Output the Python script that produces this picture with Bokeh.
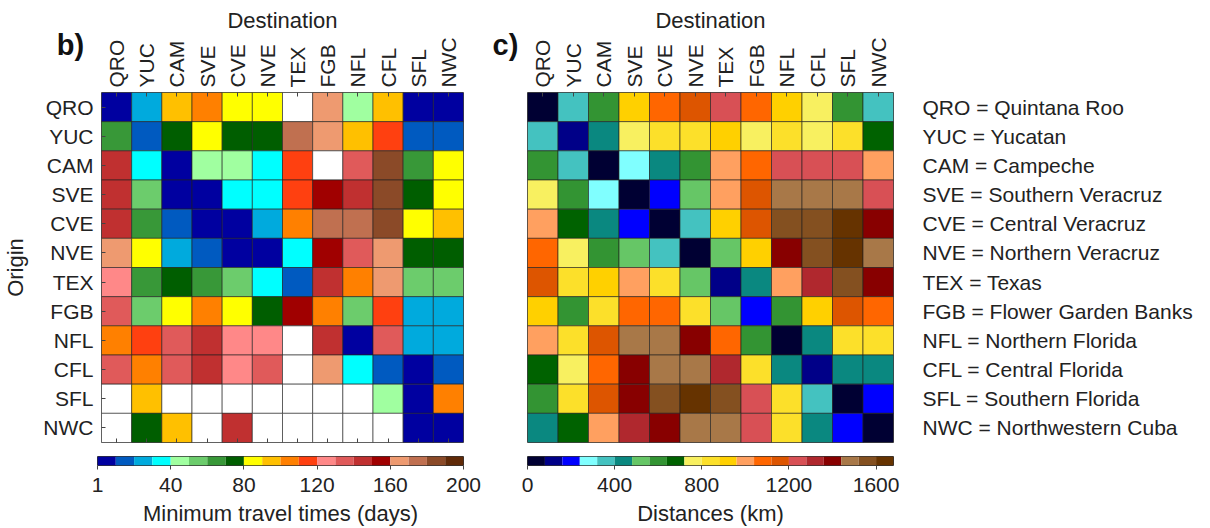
import math
from bokeh.plotting import figure
from bokeh.models import (LinearColorMapper, ColumnDataSource, FactorRange, Range1d,
                          FixedTicker, CategoricalAxis)
from bokeh.layouts import column, row
from bokeh.embed import file_html
from bokeh.resources import INLINE
from bokeh.core.properties import value

# ---------------- data ----------------
codes = ["QRO", "YUC", "CAM", "SVE", "CVE", "NVE", "TEX", "FGB", "NFL", "CFL", "SFL", "NWC"]
region_names = ["Quintana Roo", "Yucatan", "Campeche", "Southern Veracruz", "Central Veracruz",
                "Northern Veracruz", "Texas", "Flower Garden Banks", "Northern Florida",
                "Central Florida", "Southern Florida", "Northwestern Cuba"]

N = None  # no connection (white cell)
# rows = origin, columns = destination (same order as codes)
travel_days = [
    [5, 25, 95, 105, 85, 85, N, 165, 45, 95, 5, 5],              # QRO
    [65, 15, 75, 85, 75, 75, 175, 165, 95, 115, 15, 15],         # YUC
    [145, 35, 5, 45, 45, 35, 115, N, 135, 185, 65, 85],          # CAM
    [145, 55, 5, 5, 35, 35, 115, 155, 145, 185, 75, 85],         # SVE
    [145, 65, 15, 5, 5, 25, 105, 175, 175, 185, 85, 95],         # CVE
    [165, 85, 25, 15, 5, 5, 35, 155, 135, 165, 75, 75],          # NVE
    [125, 65, 75, 65, 55, 35, 15, 145, 105, 165, 55, 55],        # TEX
    [135, 55, 85, 105, 85, 75, 155, 105, 55, 115, 25, 25],       # FGB
    [105, 115, 135, 145, 125, 125, N, 145, 5, 135, 25, 25],      # NFL
    [135, 105, 135, 145, 125, 135, N, 165, 35, 15, 5, 15],       # CFL
    [N, 95, N, N, N, N, N, N, N, 45, 5, 105],                    # SFL
    [N, 75, 95, N, 145, N, N, N, N, N, 5, 5],                    # NWC
]

distances_km = [
    [40, 360, 600, 920, 1080, 1160, 1240, 1080, 920, 760, 600, 360],        # QRO
    [360, 120, 440, 760, 840, 840, 920, 760, 840, 760, 840, 680],           # YUC
    [600, 360, 40, 280, 440, 600, 1000, 1080, 1240, 1240, 1240, 1000],      # CAM
    [760, 600, 280, 40, 200, 520, 1000, 1160, 1480, 1480, 1480, 1240],      # SVE
    [1000, 680, 440, 200, 40, 360, 920, 1160, 1560, 1560, 1640, 1400],      # CVE
    [1080, 760, 600, 520, 360, 40, 520, 920, 1400, 1560, 1640, 1480],       # NVE
    [1160, 840, 920, 1000, 840, 520, 120, 440, 1000, 1320, 1560, 1400],     # TEX
    [920, 600, 840, 1080, 1080, 840, 520, 200, 600, 920, 1160, 1080],       # FGB
    [1000, 840, 1160, 1480, 1480, 1400, 1080, 600, 40, 440, 840, 840],      # NFL
    [680, 760, 1080, 1400, 1480, 1480, 1320, 840, 440, 120, 440, 440],      # CFL
    [600, 840, 1160, 1400, 1560, 1640, 1560, 1240, 840, 360, 40, 200],      # SFL
    [440, 680, 1000, 1320, 1400, 1480, 1480, 1240, 840, 440, 200, 40],      # NWC
]

days_edges_max = 200
days_ticks = [0, 40, 80, 120, 160, 200]
days_tick_labels = {0: "1"}
km_edges_max = 1680
km_ticks = [0, 400, 800, 1200, 1600]
panel_tags = ["b)", "c)"]

palette_days = ["#0000A0", "#005AC0", "#00AADD", "#00FFFF", "#A0FFA0", "#6CCC6C", "#389838",
                "#005E00", "#FFFF00", "#FFC000", "#FF8000", "#FF4010", "#FF8888", "#E05A5A",
                "#C03030", "#A00000", "#EE9A70", "#C07050", "#8B4A28", "#602A08"]
palette_km = ["#000033", "#000088", "#0000FF", "#80FFFF", "#44C2C0", "#0A8880", "#66C666",
              "#339433", "#006200", "#F8F060", "#FCE02A", "#FFD000", "#FFA060", "#FF6600",
              "#DD5500", "#D85055", "#B0282E", "#880000", "#A87848", "#845020", "#663300"]

FONT = "Liberation Sans"
TXT = "#222222"
TOP_H = 444
BOT_H = 84


def cells(matrix):
    xs, ys, vs = [], [], []
    for i, o in enumerate(codes):
        for j, d in enumerate(codes):
            v = matrix[i][j]
            xs.append(d)
            ys.append(o)
            vs.append(float("nan") if v is None else v)
    return ColumnDataSource(dict(dest=xs, orig=ys, val=vs))


def heatmap(matrix, mapper, width, left, right, show_rows):
    p = figure(width=width, height=TOP_H, x_range=FactorRange(*codes),
               y_range=FactorRange(*reversed(codes)), x_axis_location="above",
               output_backend="svg", toolbar_location=None,
               min_border_left=left, min_border_right=right, min_border_top=92,
               min_border_bottom=2, outline_line_color="#555555")
    p.rect(x="dest", y="orig", width=1, height=1, source=cells(matrix),
           fill_color={"field": "val", "transform": mapper},
           line_color="#202020", line_alpha=0.6, line_width=1)
    p.xgrid.visible = False
    p.ygrid.visible = False
    ax = p.xaxis[0]
    ax.major_label_orientation = math.pi / 2
    ax.major_label_text_font = FONT
    ax.major_label_text_font_size = "21px"
    ax.major_label_text_color = TXT
    ax.major_label_standoff = 5
    ax.major_tick_in = 4
    ax.major_tick_out = 0
    ax.major_tick_line_color = "#444444"
    ax.axis_line_color = None
    ax.axis_label = "Destination"
    ax.axis_label_text_font = FONT
    ax.axis_label_text_font_size = "22px"
    ax.axis_label_text_font_style = "normal"
    ax.axis_label_text_color = TXT
    ax.axis_label_standoff = 1
    ay = p.yaxis[0]
    if show_rows:
        ay.major_label_text_font = FONT
        ay.major_label_text_font_size = "21px"
        ay.major_label_text_color = TXT
        ay.major_label_standoff = 8
        ay.major_tick_in = 4
        ay.major_tick_out = 0
        ay.major_tick_line_color = "#444444"
        ay.axis_line_color = None
        ay.axis_label = "Origin"
        ay.axis_label_text_font = FONT
        ay.axis_label_text_font_size = "22px"
        ay.axis_label_text_font_style = "normal"
        ay.axis_label_text_color = TXT
        ay.axis_label_standoff = 12
        bot = CategoricalAxis(major_label_text_font_size="1px", major_label_text_alpha=0,
                              major_label_standoff=0, major_tick_in=4, major_tick_out=0,
                              major_tick_line_color="#444444", axis_line_color=None)
        p.add_layout(bot, "below")
    else:
        ay.visible = False
    return p


def colorbar(palette, vmax, ticks, overrides, title, width, left, right):
    n = len(palette)
    step = vmax / n
    lefts = [k * step for k in range(n)]
    rights = [(k + 1) * step for k in range(n)]
    src = ColumnDataSource(dict(l=lefts, r=rights, c=palette))
    p = figure(width=width, height=BOT_H, x_range=Range1d(0, vmax), y_range=Range1d(0, 1),
               output_backend="svg", toolbar_location=None,
               min_border_left=left, min_border_right=right, min_border_top=12,
               min_border_bottom=59, outline_line_color="#333333")
    p.quad(left="l", right="r", bottom=0, top=1, fill_color="c", line_color=None, source=src)
    p.xgrid.visible = False
    p.ygrid.visible = False
    p.yaxis.visible = False
    ax = p.xaxis[0]
    ax.ticker = FixedTicker(ticks=ticks)
    ax.major_label_overrides = overrides
    ax.major_label_text_font = FONT
    ax.major_label_text_font_size = "21px"
    ax.major_label_text_color = TXT
    ax.major_label_standoff = 8
    ax.major_tick_in = 0
    ax.major_tick_out = 4
    ax.major_tick_line_color = "#444444"
    ax.minor_tick_line_color = None
    ax.axis_line_color = None
    ax.axis_label = title
    ax.axis_label_text_font = FONT
    ax.axis_label_text_font_size = "22px"
    ax.axis_label_text_font_style = "normal"
    ax.axis_label_text_color = TXT
    ax.axis_label_standoff = 6
    return p


mapper_days = LinearColorMapper(palette=palette_days, low=0, high=days_edges_max, nan_color="white")
mapper_km = LinearColorMapper(palette=palette_km, low=0, high=km_edges_max, nan_color="white")

fig_b = heatmap(travel_days, mapper_days, 488, 97, 25, True)
fig_c = heatmap(distances_km, mapper_km, 420, 39, 15, False)

fig_l = figure(width=302, height=TOP_H, x_range=Range1d(0, 302),
               y_range=FactorRange(*reversed(codes)), output_backend="svg",
               toolbar_location=None, min_border_left=0, min_border_right=0,
               min_border_top=92, min_border_bottom=2, outline_line_color=None)
fig_l.axis.visible = False
fig_l.xgrid.visible = False
fig_l.ygrid.visible = False
fig_l.text(x=[14] * len(codes), y=codes,
           text=[f"{c} = {n}" for c, n in zip(codes, region_names)],
           text_font=value(FONT), text_font_size="21px", text_color=TXT,
           text_align="left", text_baseline="middle")

cb_b = colorbar(palette_days, days_edges_max, days_ticks, days_tick_labels,
                "Minimum travel times (days)", 488, 97, 25)
cb_c = colorbar(palette_km, km_edges_max, km_ticks, {}, "Distances (km)", 420, 39, 15)

# transparent overlay carrying the panel tags "b)" and "c)" (pixel-space ranges, y down)
TAG_W, TAG_H = 540, 70
fig_tags = figure(width=TAG_W, height=TAG_H, x_range=Range1d(0, TAG_W),
                  y_range=Range1d(TAG_H, 0), output_backend="svg", toolbar_location=None,
                  min_border=0, outline_line_color=None, border_fill_alpha=0,
                  background_fill_alpha=0, margin=(-(TOP_H + BOT_H), 0, 0, 0))
fig_tags.axis.visible = False
fig_tags.xgrid.visible = False
fig_tags.ygrid.visible = False
fig_tags.text(x=[70, 505], y=[44, 44], text=panel_tags, text_font=value(FONT),
              text_font_size="29px", text_font_style="bold", text_color="#111111",
              text_align="center", text_baseline="alphabetic")

layout = column(row(fig_b, fig_c, fig_l), row(cb_b, cb_c), fig_tags)
open("out.html", "w").write(file_html(layout, INLINE))
